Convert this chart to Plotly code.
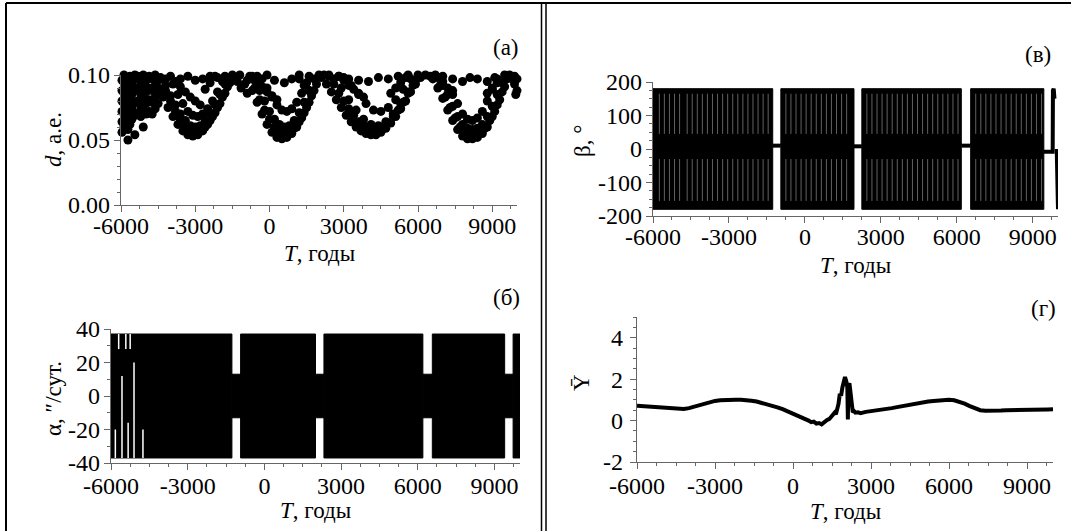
import plotly.graph_objects as go

W, H = 1071, 531
FONT = "Liberation Serif"

# ---------------- panel (а): d, a.e. scatter ----------------
a_T_early = [-5960]*6 + [-5880]*6 + [-5800]*5 + [-5720]*6 + [-5640]*5 + [-5560]*4 + [-5440]*6 + [-5320]*4 + [-5200]*4 + [-5100]*5 + [-4980]*4 + [-4860]*4 + [-4740]*4 + [-4620]*4 + [-4500]*3
a_d_early = [0.056, 0.064, 0.072, 0.080, 0.088, 0.096,
             0.060, 0.070, 0.078, 0.086, 0.094, 0.100,
             0.066, 0.074, 0.083, 0.091, 0.098,
             0.050, 0.058, 0.068, 0.077, 0.087, 0.095,
             0.062, 0.072, 0.081, 0.090, 0.099,
             0.066, 0.075, 0.085, 0.094,
             0.054, 0.069, 0.079, 0.088, 0.097, 0.100,
             0.071, 0.080, 0.090, 0.099,
             0.068, 0.076, 0.085, 0.094,
             0.060, 0.073, 0.082, 0.091, 0.100,
             0.070, 0.078, 0.087, 0.096,
             0.072, 0.081, 0.090, 0.099,
             0.070, 0.079, 0.088, 0.097,
             0.074, 0.083, 0.092, 0.100,
             0.078, 0.087, 0.096]

a_T_s1 = [-4500, -4300, -4100, -3900, -3700, -3500, -3300, -3100, -2900, -2700, -2500, -2300, -2100, -1900, -1700, -1500,
          -4200, -4000, -3800, -3600, -3400, -3200, -3000, -2800, -2600, -2400, -2200, -2000, -1800,
          -3900, -3700, -3500, -3300, -3100, -2900, -2700, -2500, -2300, -2100, -1900,
          -4400, -4200, -4000, -3800, -3600, -3400, -3200, -3000, -2800, -2600, -2400, -2200, -2000, -1800, -1600,
          -4000, -3800, -3600, -3400, -3200, -3000, -2800, -2200, -2400, -2600,
          -4400, -4200, -3600, -3300, -3000, -2700, -2400, -2100, -1800, -1500, -1300, -1150, -1000, -900, -1200]
a_d_s1 = [0.090, 0.083, 0.075, 0.068, 0.062, 0.057, 0.054, 0.053, 0.054, 0.057, 0.062, 0.068, 0.075, 0.083, 0.091, 0.098,
          0.092, 0.084, 0.077, 0.070, 0.065, 0.061, 0.060, 0.061, 0.065, 0.070, 0.077, 0.085, 0.093,
          0.093, 0.085, 0.078, 0.072, 0.069, 0.068, 0.070, 0.074, 0.080, 0.087, 0.095,
          0.097, 0.088, 0.080, 0.072, 0.066, 0.060, 0.057, 0.056, 0.057, 0.060, 0.065, 0.071, 0.078, 0.086, 0.094,
          0.099, 0.095, 0.091, 0.087, 0.083, 0.080, 0.077, 0.099, 0.094, 0.089,
          0.098, 0.097, 0.097, 0.099, 0.096, 0.097, 0.099, 0.098, 0.099, 0.100, 0.095, 0.090, 0.093, 0.086, 0.100]

a_T_s2 = [-900, -700, -500, -300, -100, 100, 300, 500, 700, 900, 1100, 1300, 1500, 1700, 1900,
          -800, -600, -400, -200, 0, 200, 400, 600, 800, 1000, 1200, 1400, 1600, 1800,
          -600, -400, -200, 0, 200, 400, 600, 800, 1000, 1200, 1400, 1600, 1800,
          -300, -100, 100, 300, 500, 700, 900, 1100, 1300, 1500,
          -700, -500, -300, -100, 100, 300, 1200, 1400, 1600,
          -500, -100, 200, 600, 900, 1200, 1600, 2000, 2200]
a_d_s2 = [0.096, 0.088, 0.079, 0.070, 0.062, 0.056, 0.052, 0.051, 0.052, 0.055, 0.060, 0.067, 0.075, 0.084, 0.093,
          0.099, 0.090, 0.081, 0.073, 0.066, 0.060, 0.057, 0.055, 0.056, 0.059, 0.064, 0.071, 0.079, 0.088,
          0.096, 0.088, 0.080, 0.072, 0.066, 0.062, 0.060, 0.061, 0.065, 0.071, 0.079, 0.088, 0.097,
          0.097, 0.090, 0.083, 0.077, 0.073, 0.072, 0.074, 0.079, 0.086, 0.094,
          0.099, 0.095, 0.091, 0.087, 0.084, 0.081, 0.097, 0.092, 0.088,
          0.099, 0.100, 0.096, 0.094, 0.097, 0.100, 0.099, 0.100, 0.100]

a_T_s3 = [2100, 2300, 2500, 2700, 2900, 3100, 3300, 3500, 3700, 3900, 4100, 4300, 4500, 4700, 4900, 5100, 5300, 5500, 5700, 5900, 6100,
          2400, 2600, 2800, 3000, 3200, 3400, 3600, 3800, 4000, 4200, 4400, 4600, 4800, 5000, 5200, 5400, 5600, 5800, 6000,
          2600, 2900, 3200, 3500, 3800, 4100, 4400, 4700, 5000, 5300, 5600, 5900,
          3000, 3300, 3600, 3900, 4200, 4500, 4800, 5100, 5400, 5700,
          2800, 3000, 3200, 3400, 3600, 3800, 4900, 5100, 5300, 5500,
          2400, 2800, 3200, 3600, 4000, 4400, 4800, 5200, 5600, 6000, 6300, 6500]
a_d_s3 = [0.098, 0.093, 0.087, 0.081, 0.075, 0.069, 0.064, 0.060, 0.057, 0.055, 0.054, 0.054, 0.056, 0.059, 0.063, 0.068, 0.074, 0.080, 0.087, 0.093, 0.098,
          0.099, 0.093, 0.086, 0.080, 0.074, 0.069, 0.064, 0.061, 0.058, 0.057, 0.058, 0.060, 0.063, 0.068, 0.073, 0.079, 0.086, 0.092, 0.098,
          0.097, 0.090, 0.081, 0.073, 0.066, 0.062, 0.061, 0.064, 0.070, 0.078, 0.087, 0.096,
          0.098, 0.092, 0.085, 0.078, 0.073, 0.072, 0.075, 0.081, 0.089, 0.097,
          0.099, 0.096, 0.092, 0.089, 0.086, 0.083, 0.086, 0.090, 0.094, 0.098,
          0.100, 0.099, 0.097, 0.096, 0.095, 0.098, 0.097, 0.099, 0.100, 0.100, 0.100, 0.099]

a_T_s4 = [6600, 6800, 7000, 7200, 7400, 7600, 7800, 8000, 8200, 8400, 8600, 8800, 9000, 9200, 9400, 9600,
          6700, 6900, 7100, 7300, 7500, 7700, 7900, 8100, 8300, 8500, 8700, 8900, 9100, 9300, 9500,
          6800, 7000, 7200, 7400, 7600, 7800, 8000, 8200, 8400, 8600, 8800, 9000, 9200, 9400,
          7400, 7600, 7800, 8000, 8200, 8400, 8600, 8800, 9000, 9200,
          7000, 7200, 7400, 8800, 9000, 9200,
          6700, 7000, 7400, 7800, 8100, 8400, 8800, 9100, 9500, 9700, 9800, 9900, 10000, 9900, 10000, 9950]
a_d_s4 = [0.097, 0.090, 0.082, 0.073, 0.065, 0.058, 0.053, 0.051, 0.051, 0.052, 0.055, 0.060, 0.068, 0.077, 0.087, 0.097,
          0.099, 0.092, 0.083, 0.075, 0.067, 0.060, 0.056, 0.054, 0.054, 0.056, 0.059, 0.065, 0.072, 0.081, 0.091,
          0.098, 0.092, 0.085, 0.076, 0.068, 0.062, 0.059, 0.058, 0.059, 0.062, 0.068, 0.076, 0.085, 0.094,
          0.088, 0.078, 0.070, 0.066, 0.065, 0.067, 0.072, 0.080, 0.089, 0.097,
          0.095, 0.090, 0.085, 0.086, 0.090, 0.094,
          0.100, 0.099, 0.097, 0.095, 0.098, 0.097, 0.095, 0.098, 0.100, 0.100, 0.097, 0.093, 0.088, 0.099, 0.097, 0.085]

# ---------------- panel (в): beta, deg ----------------
beta_block_start = [-6000, -950, 2250, 6550]
beta_block_end = [-1270, 1940, 6180, 9440]
beta_upper = [180, 180, 180, 180]
beta_lower = [-180, -180, -180, -180]
beta_gap_T = [-1270, -950, None, 1940, 2250, None, 6180, 6550, None, 9440, 9790, 9800, 9830, 9860, None, 9950, 9980, 10000]
beta_gap_v = [10, 10, None, 8, 8, None, 10, 10, None, -8, -8, 175, 180, 150, None, 0, -150, -180]
# light streaks visible inside the oscillation blocks (years)
beta_streak_T = [-5750, -5550, -5350, -5150, -4950,
                 -4650, -4450, -4250, -4050, -3850, -3650, -3450, -3250, -3050, -2850, -2650, -2450, -2250, -2050, -1850, -1650, -1450,
                 -750, -550, -350, -150, 50, 250, 450, 650, 850, 1050, 1250, 1450, 1650,
                 2450, 2650, 2850, 3050, 3250, 3450, 3650, 3850, 4050, 4250, 4450, 4650, 4850, 5050, 5250, 5450, 5650, 5850, 6050,
                 6750, 6950, 7150, 7350, 7550, 7750, 7950, 8150, 8350, 8550, 8750, 8950, 9150, 9350]
beta_streak_top_lo = 45
beta_streak_top_hi = 165
beta_streak_bot_lo = -155
beta_streak_bot_hi = -30

# ---------------- panel (б): alpha, "/day ----------------
alpha_block_start = [-6000, -930, 2330, 6570, 9730]
alpha_block_end = [-1270, 2000, 6200, 9400, 10000]
alpha_upper = [37, 37, 37, 37, 37]
alpha_lower = [-37, -37, -37, -37, -37]
alpha_band_start = [-1270, 2000, 6200, 9400]
alpha_band_end = [-930, 2330, 6570, 9730]
alpha_band_upper = [13, 13, 13, 13]
alpha_band_lower = [-13, -13, -13, -13]
alpha_streak_T = [-5830, -5700, -5570, -5420, -5330, -5250, -5100, -4750]
alpha_streak_lo = [-37, 28, -37, 28, -37, 28, -37, -37]
alpha_streak_hi = [-20, 37, 12, 37, -16, 37, 20, -20]

# ---------------- panel (г): Y mean ----------------
g_T = [-6000, -5800, -5600, -5400, -5200, -5000, -4800, -4600, -4400, -4200, -4000, -3800, -3600, -3400, -3200,
       -3000, -2800, -2600, -2400, -2200, -2000, -1800, -1600, -1400, -1200, -1000, -800, -600, -400, -200,
       0, 200, 400, 600, 700, 800, 900, 1000, 1100, 1200, 1300, 1400, 1500, 1600, 1650, 1700,
       1750, 1800, 1850, 1900, 1950, 2000, 2050, 2090, 2110, 2130, 2170, 2220, 2260, 2300, 2350, 2400,
       2500, 2600, 2800, 3000, 3200, 3400, 3600, 3800, 4000, 4200, 4400, 4600, 4800, 5000, 5200, 5400,
       5600, 5800, 6000, 6200, 6400, 6600, 6800, 7000, 7200, 7400, 7600, 7800, 8000, 8200, 8400, 8600,
       8800, 9000, 9200, 9400, 9600, 9800, 10000]
g_Y = [0.72, 0.70, 0.68, 0.66, 0.64, 0.62, 0.60, 0.57, 0.56, 0.56, 0.60, 0.68, 0.76, 0.84, 0.90,
       0.95, 0.98, 1.00, 1.01, 1.01, 1.00, 0.99, 0.96, 0.92, 0.86, 0.79, 0.72, 0.64, 0.55, 0.45,
       0.34, 0.22, 0.10, 0.00, -0.08, -0.05, -0.15, -0.12, -0.18, -0.06, 0.02, 0.08, 0.25, 0.38, 0.30, 0.55,
       0.80, 1.30, 1.20, 1.60, 2.00, 2.10, 1.90, 1.60, 0.05, 1.70, 1.80, 1.20, 0.60, 0.40, 0.45, 0.38,
       0.40, 0.36, 0.42, 0.45, 0.48, 0.52, 0.56, 0.60, 0.65, 0.70, 0.75, 0.80, 0.84, 0.88, 0.92, 0.95,
       0.98, 1.00, 1.00, 0.98, 0.92, 0.82, 0.70, 0.58, 0.50, 0.48, 0.47, 0.48, 0.49, 0.50, 0.50, 0.51,
       0.52, 0.52, 0.53, 0.53, 0.54, 0.54, 0.55]

x_tick_vals = [-6000, -3000, 0, 3000, 6000, 9000]
x_tick_text = ["-6000", "-3000", "0", "3000", "6000", "9000"]


def blocks(starts, ends, lows, highs):
    xs, ys = [], []
    for s, e, lo, hi in zip(starts, ends, lows, highs):
        xs += [s, e, e, s, s, None]
        ys += [lo, lo, hi, hi, lo, None]
    return xs, ys


def segs(ts, lows, highs):
    xs, ys = [], []
    for t, lo, hi in zip(ts, lows, highs):
        xs += [t, t, None]
        ys += [lo, hi, None]
    return xs, ys


fig = go.Figure()

# panel а
for tx, dy in [(a_T_early, a_d_early), (a_T_s1, a_d_s1), (a_T_s2, a_d_s2), (a_T_s3, a_d_s3), (a_T_s4, a_d_s4)]:
    fig.add_trace(go.Scatter(x=tx, y=dy, mode="markers", xaxis="x", yaxis="y",
                             marker=dict(color="black", size=9, line=dict(width=0)),
                             cliponaxis=False, showlegend=False))

# panel в
bx, by = blocks(beta_block_start, beta_block_end, beta_lower, beta_upper)
fig.add_trace(go.Scatter(x=bx, y=by, mode="lines", fill="toself", fillcolor="black",
                         line=dict(color="black", width=1), xaxis="x2", yaxis="y2", showlegend=False))
fig.add_trace(go.Scatter(x=beta_gap_T, y=beta_gap_v, mode="lines", line=dict(color="black", width=4),
                         xaxis="x2", yaxis="y2", showlegend=False, connectgaps=False))
n = len(beta_streak_T)
sx1, sy1 = segs(beta_streak_T, [beta_streak_top_lo]*n, [beta_streak_top_hi]*n)
sx2, sy2 = segs(beta_streak_T, [beta_streak_bot_lo]*n, [beta_streak_bot_hi]*n)
fig.add_trace(go.Scatter(x=sx1 + sx2, y=sy1 + sy2, mode="lines", line=dict(color="#7a7a7a", width=0.8),
                         xaxis="x2", yaxis="y2", showlegend=False))

# panel б
ax_, ay_ = blocks(alpha_block_start, alpha_block_end, alpha_lower, alpha_upper)
fig.add_trace(go.Scatter(x=ax_, y=ay_, mode="lines", fill="toself", fillcolor="black",
                         line=dict(color="black", width=1), xaxis="x3", yaxis="y3", showlegend=False))
gx, gy = blocks(alpha_band_start, alpha_band_end, alpha_band_lower, alpha_band_upper)
fig.add_trace(go.Scatter(x=gx, y=gy, mode="lines", fill="toself", fillcolor="black",
                         line=dict(color="black", width=1), xaxis="x3", yaxis="y3", showlegend=False))
ax2, ay2 = segs(alpha_streak_T, alpha_streak_lo, alpha_streak_hi)
fig.add_trace(go.Scatter(x=ax2, y=ay2, mode="lines", line=dict(color="white", width=1.5),
                         xaxis="x3", yaxis="y3", showlegend=False))

# panel г
fig.add_trace(go.Scatter(x=g_T, y=g_Y, mode="lines", line=dict(color="black", width=4),
                         xaxis="x4", yaxis="y4", showlegend=False))


def px_x(p):
    return p / W


def px_y(p):
    return 1 - p / H


AXCOL = "#666666"
tickfont = dict(family=FONT, size=24, color="black")


def xax(x0, x1, anchor, standoff):
    return dict(domain=[px_x(x0), px_x(x1)], anchor=anchor, range=[-6000, 10000], automargin=False,
                tickmode="array", tickvals=x_tick_vals, ticktext=x_tick_text, ticklabelstandoff=standoff,
                showline=True, linecolor=AXCOL, linewidth=1.3, ticks="outside", ticklen=6,
                tickwidth=1.3, tickcolor=AXCOL, showgrid=False, zeroline=False, tickfont=tickfont,
                minor=dict(tick0=-6000, dtick=750, ticklen=3, tickwidth=1.2, tickcolor=AXCOL, ticks="outside", showgrid=False))


def yax(y_top, y_bot, anchor, rng, vals, texts, mdt, standoff=-1):
    return dict(domain=[px_y(y_bot), px_y(y_top)], anchor=anchor, range=rng, automargin=False,
                tickmode="array", tickvals=vals, ticktext=texts, ticklabelstandoff=standoff,
                showline=True, linecolor=AXCOL, linewidth=1.3, ticks="outside", ticklen=6,
                tickwidth=1.3, tickcolor=AXCOL, showgrid=False, zeroline=False, tickfont=tickfont,
                minor=dict(tick0=rng[0], dtick=mdt, ticklen=3, tickwidth=1.2, tickcolor=AXCOL, ticks="outside", showgrid=False))


fig.update_layout(
    template="none",
    width=W, height=H, margin=dict(l=0, r=0, t=0, b=0, autoexpand=False),
    paper_bgcolor="white", plot_bgcolor="rgba(0,0,0,0)",
    xaxis=xax(121, 517, "y", -7),
    yaxis=yax(75, 205, "x", [0, 0.1], [0, 0.05, 0.1], ["0.00", "0.05", "0.10"], 0.01),
    xaxis2=xax(653, 1058, "y2", -7),
    yaxis2=yax(82, 216, "x2", [-200, 200], [-200, -100, 0, 100, 200], ["-200", "-100", "0", "100", "200"], 25),
    xaxis3=xax(111, 520, "y3", -5),
    yaxis3=yax(329, 463, "x3", [-40, 40], [-40, -20, 0, 20, 40], ["-40", "-20", "0", "20", "40"], 10),
    xaxis4=xax(637, 1053, "y4", -4),
    yaxis4=yax(317, 462, "x4", [-2, 5], [-2, 0, 2, 4], ["-2", "0", "2", "4"], 0.5, 2),
)

ann_font = dict(family=FONT, size=23, color="black")


def ann(text, x, y, angle=0):
    fig.add_annotation(text=text, x=px_x(x), y=px_y(y), xref="paper", yref="paper",
                       showarrow=False, textangle=angle, font=ann_font, xanchor="center", yanchor="middle")


ann("(а)", 506, 47)
ann("(в)", 1038, 55)
ann("(б)", 506, 297)
ann("(г)", 1043, 308)
ann("<i>T</i>, годы", 319, 253)
ann("<i>T</i>, годы", 855, 265)
ann("<i>T</i>, годы", 315, 510)
ann("<i>T</i>, годы", 845, 511)
ann("<i>d</i>, а.е.", 53, 140, -90)
ann("β, °", 582, 141, -90)
ann("α, ″/сут.", 53, 399, -90)
ann("Ȳ", 581, 383, -90)

# frame lines
shape_line = dict(color="black", width=2)
fig.add_shape(type="line", xref="paper", yref="paper", x0=px_x(6), x1=px_x(6), y0=px_y(3), y1=px_y(531), line=shape_line)
fig.add_shape(type="line", xref="paper", yref="paper", x0=px_x(6), x1=px_x(1071), y0=px_y(3), y1=px_y(3), line=shape_line)
fig.add_shape(type="line", xref="paper", yref="paper", x0=px_x(541.5), x1=px_x(541.5), y0=px_y(3), y1=px_y(531), line=dict(color="black", width=1.5))
fig.add_shape(type="line", xref="paper", yref="paper", x0=px_x(546), x1=px_x(546), y0=px_y(3), y1=px_y(531), line=dict(color="black", width=1.5))

fig.write_html("out.html")
